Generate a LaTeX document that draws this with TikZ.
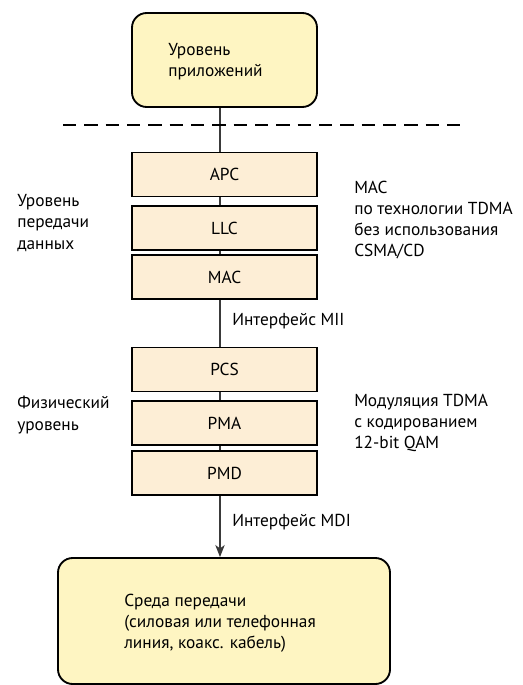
\documentclass[tikz,border=0pt]{standalone}
\usepackage{fontspec}
\setmainfont{PT Sans}
\usetikzlibrary{arrows.meta}
\definecolor{envfill}{HTML}{FEF5C2}
\definecolor{layfill}{HTML}{FDEED6}
\definecolor{linecol}{HTML}{3A3A3A}
\tikzset{
  envbox/.style={draw=black, line width=1.4pt, fill=envfill, rounded corners=11pt, inner sep=0pt},
  laybox/.style={draw=black, line width=1.4pt, fill=layfill, inner sep=0pt, minimum width=185*0.75pt, minimum height=44*0.75pt, font=\fontsize{13}{15}\selectfont},
  conn/.style={draw=linecol, line width=1.1pt},
  lbl/.style={anchor=west, align=left, inner sep=0pt, font=\fontsize{13}{15.9}\selectfont},
}
\begin{document}
\begin{tikzpicture}[x=0.75pt,y=-0.75pt]
\useasboundingbox (0,0) rectangle (523,685);
% environment boxes
\node[envbox, minimum width=185*0.75pt, minimum height=94*0.75pt] (app) at (224.5,60) {};
\node[lbl] (apptxt) at (168,62) {Уровень\\приложений};
\node[envbox, minimum width=332*0.75pt, minimum height=126*0.75pt] (med) at (224,621) {};
\node[lbl] (medtxt) at (124,623) {Среда передачи\\(силовая или телефонная\\линия, коакс. кабель)};
% layer boxes
\node[laybox] (apc) at (224.5,174.5) {APC};
\node[laybox] (llc) at (224.5,228) {LLC};
\node[laybox] (mac) at (224.5,277) {MAC};
\node[laybox] (pcs) at (224.5,369.5) {PCS};
\node[laybox] (pma) at (224.5,423) {PMA};
\node[laybox] (pmd) at (224.5,473) {PMD};
% axis
\coordinate (ax) at (220,0);
\coordinate (dl) at (63,125);
\coordinate (dr) at (468,125);
\draw[conn] (app.south -| ax) -- (apc.north -| ax);
\draw[conn] (apc.south -| ax) -- (llc.north -| ax);
\draw[conn] (llc.south -| ax) -- (mac.north -| ax);
\draw[conn] (mac.south -| ax) -- (pcs.north -| ax);
\draw[conn] (pcs.south -| ax) -- (pma.north -| ax);
\draw[conn] (pma.south -| ax) -- (pmd.north -| ax);
\draw[conn, -{Stealth[length=9pt, width=7pt, inset=2.5pt]}] (pmd.south -| ax) -- (med.north -| ax);
% dashed separator
\draw[draw=black, line width=1pt, dash pattern=on 10pt off 6pt] (dl) -- (dr);
% labels
\node[lbl] (mii) at (232,321) {Интерфейс MII};
\node[lbl] (mdi) at (232,522) {Интерфейс MDI};
\node[lbl] (dll) at (17,223) {Уровень\\передачи\\данных};
\node[lbl] (phy) at (17,415) {Физический\\уровень};
\node[lbl] (macn) at (354,220) {MAC\\по технологии TDMA\\без использования\\CSMA/CD};
\node[lbl] (modn) at (354,423) {Модуляция TDMA\\с кодированием\\12-bit QAM};
\end{tikzpicture}
\end{document}
